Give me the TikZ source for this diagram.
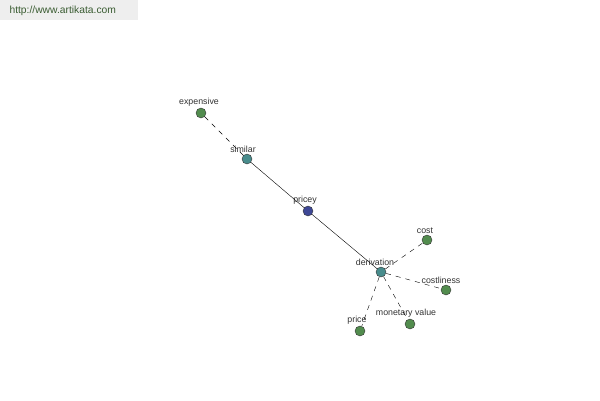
\documentclass[tikz,border=0pt]{standalone}
\usepackage{fontspec}
\setmainfont{Liberation Sans}
\usepackage{xcolor}
\usepackage{tikz}
\usetikzlibrary{arrows}
\definecolor{wgreen}{RGB}{82,140,78}
\definecolor{wteal}{RGB}{72,140,140}
\definecolor{wblue}{RGB}{62,72,150}
\definecolor{wtext}{RGB}{50,50,50}
\definecolor{wsite}{RGB}{58,92,50}
\definecolor{wband}{RGB}{238,238,238}
\tikzstyle{word} = [circle,draw=black!80,thin,minimum size=10pt,inner sep=0pt]
\tikzstyle{link} = [thin,black]
\tikzstyle{far} = [thin,black,dashed,dash pattern=on 5pt off 5pt]

\begin{document}
\begin{tikzpicture}[x=1pt,y=-1pt,font=\fontsize{8.8}{10}\selectfont,
	every label/.style={text=wtext,inner sep=1pt}]
	\useasboundingbox (0,0) rectangle (600,400);
	% Site band:
	\fill[wband] (0,0) rectangle (138,20);
	\node[text=wsite,font=\fontsize{10.3}{12}\selectfont,anchor=west] (site) at (6,11) {http://www.artikata.com};
	
	% Words:
	\node[word,fill=wgreen,label={[xshift=-2pt]above:expensive}] (expensive) at (201,113) {};
	\node[word,fill=wteal,label={[xshift=-4pt]above:similar}] (similar) at (247,159) {};
	\node[word,fill=wblue,label={[xshift=-3pt]above:pricey}] (pricey) at (308,211) {};
	\node[word,fill=wteal,label={[xshift=-6pt]above:derivation}] (derivation) at (381,272) {};
	\node[word,fill=wgreen,label={[xshift=-2pt]above:cost}] (cost) at (427,240) {};
	\node[word,fill=wgreen,label={[xshift=-5pt]above:costliness}] (costliness) at (446,290) {};
	\node[word,fill=wgreen,label={[xshift=-4pt]above:monetary value}] (monetary) at (410,324) {};
	\node[word,fill=wgreen,label={[xshift=-3pt]above:price}] (price) at (360,331) {};
	
	% Links:
	\draw[far] (expensive) -- (similar);
	\draw[link] (similar) -- (pricey);
	\draw[link] (pricey) -- (derivation);
	\foreach \w in {cost,costliness,monetary,price}
		\draw[far] (derivation) -- (\w);
\end{tikzpicture}
\end{document}
